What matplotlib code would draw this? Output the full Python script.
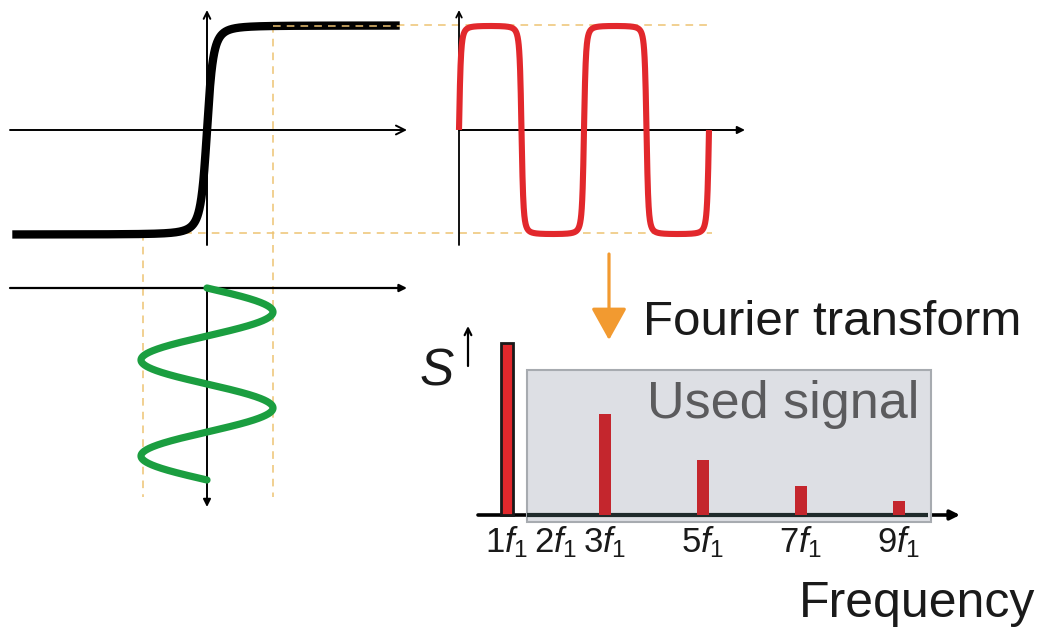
import numpy as np
import matplotlib
matplotlib.use('Agg')
import matplotlib.pyplot as plt
from matplotlib.patches import Rectangle

W, H = 1060, 631
plt.rcParams['font.family'] = ['Liberation Sans', 'DejaVu Sans']
plt.rcParams['mathtext.fontset'] = 'custom'
plt.rcParams['mathtext.rm'] = 'Liberation Sans'
plt.rcParams['mathtext.it'] = 'Liberation Sans:italic'

# ---------------- data ----------------
harmonics = [1, 3, 5, 7, 9]                 # harmonic order n (n * f1)
amplitudes = [1.00, 0.59, 0.32, 0.17, 0.08]  # relative spectral amplitude S
tick_orders = [1, 2, 3, 5, 7, 9]
tick_labels = [r'$1f_1$', r'$2f_1$', r'$3f_1$', r'$5f_1$', r'$7f_1$', r'$9f_1$']
saturation_width = 0.10     # width of the steep part of the saturating transfer curve
drive_cycles = 2            # number of drive periods shown
sigmoid_input_range = (-2.95, 2.92)

# ---------------- styling ----------------
GUIDE = '#eec373'
RED = '#e2282c'
GREEN = '#1b9e40'
BAR_RED = '#c4262d'
ORANGE = '#f29a30'

fig = plt.figure(figsize=(W / 100, H / 100), dpi=100)


def transfer(x):
    """Saturating transfer curve, normalised to 1 at unit drive."""
    f = lambda v: v / np.sqrt(v ** 2 + saturation_width ** 2)
    return f(x) / f(1.0)


def panel(ox, oy, sx, sy):
    """Full-figure transparent axes whose data origin sits at pixel (ox, oy)."""
    ax = fig.add_axes([0, 0, 1, 1])
    ax.set_axis_off()
    ax.patch.set_alpha(0)
    ax.set_xlim(-ox / sx, (W - ox) / sx)
    ax.set_ylim((oy - H) / sy, oy / sy)
    return ax


# overlay in pixel coordinates (layout: axes arrows, guides, texts)
ov = fig.add_axes([0, 0, 1, 1])
ov.set_axis_off()
ov.set_xlim(0, W)
ov.set_ylim(H, 0)


def arrow(x0, y0, x1, y1, style='-|>', lw=1.4, color='black', ms=12, ax=None):
    (ax or ov).annotate('', xy=(x1, y1), xytext=(x0, y0),
                        xycoords=ov.transData, textcoords=ov.transData,
                        arrowprops=dict(arrowstyle=style, lw=lw, color=color,
                                        mutation_scale=ms, shrinkA=0, shrinkB=0))


# dashed guide lines
gkw = dict(color=GUIDE, lw=1.1, dashes=(5, 4))
ov.plot([143, 143], [233, 497], **gkw)
ov.plot([273, 273], [25, 497], **gkw)
ov.plot([273, 712], [25, 25], **gkw)
ov.plot([143, 712], [233, 233], **gkw)

# axes of the three upper/left panels
arrow(10, 130, 407, 130, style='->', lw=1.4, ms=16)
arrow(207, 245, 207, 10, style='->', lw=1.4, ms=12)
arrow(459, 245, 459, 10, style='->', lw=1.3, ms=10)
arrow(459, 130, 745, 130, style='-|>', lw=1.4, ms=11)
arrow(10, 288, 407, 288, style='-|>', lw=1.6, ms=11)
arrow(207, 288, 207, 507, style='-|>', lw=1.4, ms=11)

# ---- transfer curve (sigmoid) ----
ax_sig = panel(207, 130, 66, 104)
xs = np.linspace(*sigmoid_input_range, 1200)
ax_sig.plot(xs, transfer(xs), color='black', lw=6, solid_capstyle='butt')
ax_sig.plot([1.0, sigmoid_input_range[1]], [transfer(1.0)] * 2, color=GUIDE, lw=1.1, dashes=(5, 4))

# ---- drive signal (sine, time runs downward) ----
ax_sin = panel(207, 288, 66, -96)
t = np.linspace(0, drive_cycles, 1600)
ax_sin.plot(np.sin(2 * np.pi * t), t, color=GREEN, lw=5.2, solid_capstyle='round')

# ---- response signal (square-ish wave) ----
ax_sq = panel(459, 130, 125, 104)
ax_sq.plot(t, transfer(np.sin(2 * np.pi * t)), color=RED, lw=4.4,
           solid_capstyle='butt', solid_joinstyle='round')

# ---- spectrum ----
ax_sp = panel(458, 515, 49, 172)
box = Rectangle((527, 370), 404, 152, transform=ov.transData, facecolor='#dddfe4',
                edgecolor='#a7abb0', lw=1.5, zorder=1)
ax_sp.add_patch(box)
ax_sp.text(919, 418, 'Used signal', transform=ov.transData, ha='right', va='baseline',
           fontsize=37.5, color='#5b5b5d', zorder=2)
arrow(478, 515, 960, 515, style='-|>', lw=2.6, ms=14)
ax_sp.bar(harmonics, amplitudes, width=0.25, bottom=0,
          color=[RED] + [BAR_RED] * (len(harmonics) - 1),
          edgecolor=['#1a1a1a'] + ['none'] * (len(harmonics) - 1),
          linewidth=[2.0] + [0] * (len(harmonics) - 1), zorder=3)
ax_sp.plot([1.4, 9.6], [0, 0], color='#1f2b2b', lw=3, zorder=2, solid_capstyle='butt')
for n, lab in zip(tick_orders, tick_labels):
    ax_sp.text(n, -0.215, lab, ha='center', va='baseline', fontsize=25, color='#1a1a1a')

# texts
ov.text(643, 335, 'Fourier transform', ha='left', va='baseline', fontsize=35.5, color='#1a1a1a')
ov.text(1035, 617, 'Frequency', ha='right', va='baseline', fontsize=36, color='#1a1a1a')
ov.text(420, 385, 'S', ha='left', va='baseline', fontsize=37, style='italic', color='#1a1a1a')
arrow(468, 366, 468, 326, style='->', lw=1.6, ms=12)

# orange Fourier-transform arrow
arrow(609, 254, 609, 340, style='-|>,head_length=0.9,head_width=0.5', lw=2.3, color=ORANGE, ms=22)

fig.savefig('out.png', dpi=100)
